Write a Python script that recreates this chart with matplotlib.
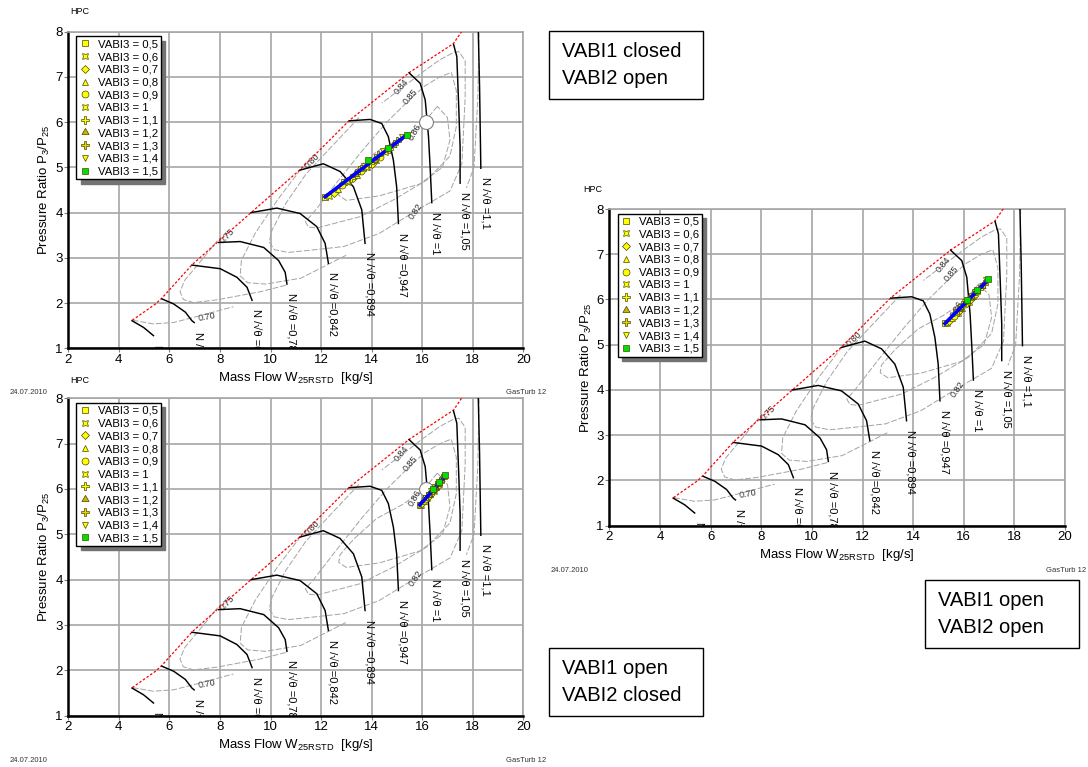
import matplotlib
matplotlib.use('Agg')
import matplotlib.pyplot as plt
from matplotlib.patches import Rectangle

plt.rcParams['font.family'] = ['Liberation Sans', 'DejaVu Sans']
plt.rcParams['mathtext.default'] = 'regular'

# ---- compressor map (identical in all three panels) ----
surge_x = [4.53, 5.45, 5.72, 6.90, 7.95, 9.23, 11.17, 13.12, 15.50, 17.24, 17.63]
surge_y = [1.62, 1.98, 2.12, 2.85, 3.37, 4.00, 4.95, 6.04, 7.10, 7.74, 8.06]

speed_x = [
    [4.52, 4.98, 5.37],
    [5.71, 6.17, 6.63, 6.89, 6.98],
    [6.89, 8.01, 8.67, 9.07, 9.27],
    [7.95, 8.80, 9.73, 10.32, 10.58, 10.65],
    [9.23, 10.25, 11.17, 11.83, 12.16, 12.29],
    [11.17, 12.09, 12.75, 13.28, 13.61, 13.74],
    [13.12, 13.94, 14.40, 14.66, 14.86, 14.99, 15.06],
    [15.48, 15.92, 16.12, 16.25, 16.32, 16.38],
    [17.24, 17.37, 17.44, 17.50, 17.50],
    [18.22, 18.27, 18.32],
]
speed_y = [
    [1.61, 1.46, 1.28],
    [2.09, 1.98, 1.80, 1.61, 1.57],
    [2.84, 2.76, 2.57, 2.35, 2.06],
    [3.34, 3.36, 3.23, 2.94, 2.68, 2.42],
    [4.00, 4.10, 3.98, 3.69, 3.32, 2.88],
    [4.94, 5.08, 4.91, 4.57, 4.06, 3.32],
    [6.03, 6.06, 5.97, 5.68, 5.16, 4.57, 3.76],
    [7.09, 6.86, 6.49, 5.68, 4.94, 4.22],
    [7.72, 7.45, 6.42, 5.46, 4.65],
    [8.00, 6.78, 4.98],
]
speed_labels = ['0,6', '0,66', '0,72', '0,78', '0,842', '0,894', '0,947', '1', '1,05', '1,1']

eff_x = [
    [4.55, 5.36, 6.16, 7.21, 8.53],
    [7.90, 7.20, 6.60, 6.42, 6.55, 6.95, 7.87, 9.59, 10.64],
    [11.20, 10.30, 9.40, 8.85, 8.80, 9.10, 9.80, 11.20, 13.00],
    [13.50, 12.40, 11.40, 10.60, 10.05, 9.95, 10.15, 10.70, 11.60, 12.90, 14.30, 15.70,
     17.10, 17.57, 17.70, 17.70, 17.45, 17.24, 16.70, 16.05, 15.20, 14.40],
    [15.60, 14.60, 13.60, 12.60, 11.70, 11.38, 11.50, 11.83, 13.54, 14.86, 16.18, 17.10,
     17.35, 17.35, 17.15, 16.70, 16.10, 15.60],
    [16.60, 16.00, 15.20, 14.20, 13.30, 12.75, 12.70, 13.00, 14.30, 15.90, 16.80, 17.10,
     17.00, 16.60],
    [18.25, 18.20, 18.05, 17.75],
]
eff_y = [
    [1.62, 1.54, 1.57, 1.72, 1.92],
    [3.38, 2.90, 2.50, 2.25, 2.08, 2.01, 2.07, 2.25, 2.40],
    [4.96, 4.30, 3.55, 2.95, 2.60, 2.45, 2.42, 2.55, 3.06],
    [6.10, 5.45, 4.85, 4.20, 3.60, 3.35, 3.18, 3.12, 3.17, 3.25, 3.54, 4.02,
     4.48, 5.08, 6.55, 7.36, 7.56, 7.54, 7.38, 7.12, 6.76, 6.42],
    [6.55, 6.00, 5.35, 4.65, 4.00, 3.80, 3.68, 3.66, 3.91, 4.28, 4.72, 5.25,
     5.90, 6.70, 7.10, 7.00, 6.80, 6.55],
    [6.35, 5.95, 5.65, 5.35, 4.90, 4.55, 4.38, 4.27, 4.37, 4.63, 5.00, 5.60,
     6.10, 6.35],
    [8.00, 6.50, 5.00, 4.55],
]
eff_text = ['0.70', '0.75', '0.80', '0.82', '0.84', '0.85', '0.86']
eff_tx = [7.47, 8.27, 11.66, 15.75, 15.19, 15.52, 15.72]
eff_ty = [1.70, 3.48, 5.13, 4.02, 6.78, 6.56, 5.79]
eff_rot = [10, 45, 45, 55, 50, 50, 60]

circle_x, circle_y = 16.15, 6.0

vabi3 = ['0,5', '0,6', '0,7', '0,8', '0,9', '1', '1,1', '1,2', '1,3', '1,4', '1,5']

# ---- operating points, panel 1: VABI1 closed / VABI2 open ----
p1_x = [[12.16, 12.91, 13.66], [12.33, 13.08, 13.83], [12.50, 13.25, 14.00],
        [12.67, 13.42, 14.17], [12.84, 13.59, 14.34], [13.01, 13.76, 14.51],
        [13.18, 13.93, 14.68], [13.35, 14.10, 14.85], [13.52, 14.27, 15.02],
        [13.69, 14.44, 15.19], [13.87, 14.63, 15.39]]
p1_y = [[4.35, 4.67, 4.99], [4.36, 4.68, 5.00], [4.44, 4.76, 5.08],
        [4.53, 4.84, 5.16], [4.61, 4.93, 5.24], [4.69, 5.01, 5.33],
        [4.77, 5.09, 5.41], [4.85, 5.17, 5.49], [4.95, 5.27, 5.58],
        [5.04, 5.36, 5.68], [5.16, 5.42, 5.72]]
p1_line_x = [12.16, 15.39]
p1_line_y = [4.35, 5.72]

# ---- panel 2: VABI1 open / VABI2 closed ----
p2_x = [[15.91, 16.16, 16.41], [15.96, 16.21, 16.46], [16.01, 16.26, 16.51],
        [16.06, 16.31, 16.56], [16.11, 16.36, 16.61], [16.16, 16.41, 16.66],
        [16.21, 16.46, 16.71], [16.26, 16.51, 16.76], [16.31, 16.56, 16.81],
        [16.36, 16.61, 16.86], [16.41, 16.66, 16.91]]
p2_y = [[5.65, 5.81, 5.97], [5.64, 5.80, 5.96], [5.68, 5.84, 6.00],
        [5.73, 5.88, 6.04], [5.77, 5.92, 6.08], [5.81, 5.97, 6.12],
        [5.85, 6.01, 6.16], [5.89, 6.05, 6.21], [5.92, 6.08, 6.24],
        [5.95, 6.11, 6.27], [6.00, 6.15, 6.31]]
p2_line_x = [15.91, 16.91]
p2_line_y = [5.65, 6.28]

# ---- panel 3: VABI1 open / VABI2 open ----
p3_x = [[15.26, 15.69, 16.11], [15.35, 15.77, 16.20], [15.43, 15.86, 16.28],
        [15.52, 15.94, 16.37], [15.60, 16.03, 16.45], [15.69, 16.11, 16.54],
        [15.77, 16.20, 16.62], [15.86, 16.28, 16.71], [15.94, 16.37, 16.79],
        [16.03, 16.45, 16.88], [16.11, 16.54, 16.96]]
p3_y = [[5.47, 5.71, 5.95], [5.47, 5.71, 5.95], [5.53, 5.77, 6.01],
        [5.59, 5.82, 6.07], [5.64, 5.89, 6.12], [5.70, 5.94, 6.18],
        [5.76, 6.00, 6.24], [5.82, 6.06, 6.30], [5.87, 6.12, 6.35],
        [5.94, 6.17, 6.42], [5.98, 6.22, 6.46]]
p3_line_x = [15.26, 16.96]
p3_line_y = [5.47, 6.43]

markers = ['s', (4, 1, 45), 'D', '^', 'o', (4, 1, 45), 'P', (3, 1, 0), 'P', 'v', 's']
msizes = [5, 6, 4, 5, 5, 6, 6, 6, 6, 5, 5]
colors = ['#ffff00'] * 7 + ['#c8b400', '#e6d200', '#ffff00', '#00e000']


def draw_panel(ax, op_x, op_y, line_x, line_y, show_circle):
    for xs, ys in zip(eff_x, eff_y):
        ax.plot(xs, ys, color='#a3a3a3', lw=0.7, ls=(0, (6, 2)), zorder=2)
    for t, x, y, r in zip(eff_text, eff_tx, eff_ty, eff_rot):
        ax.text(x, y, t, rotation=r, fontsize=6.5, color='#303030',
                ha='center', va='center', zorder=3)
    ax.plot(surge_x, surge_y, color='red', lw=0.9, ls=(0, (2, 1.5)), zorder=3)
    for xs, ys, lab in zip(speed_x, speed_y, speed_labels):
        ax.plot(xs, ys, color='black', lw=1.05, zorder=3)
        ax.text(xs[-1] + 0.14, ys[-1] - 0.2, 'N /√θ =' + lab, rotation=-90,
                ha='center', va='top', fontsize=8, clip_on=True, zorder=3)
    if show_circle:
        ax.plot(circle_x, circle_y, 'o', ms=10, mfc='white', mec='#808080',
                mew=0.8, zorder=4)
    for i, (xs, ys) in enumerate(zip(op_x, op_y)):
        ax.plot(xs, ys, ls='none', marker=markers[i], ms=msizes[i],
                mfc=colors[i], mec='#4a4a00', mew=0.5,
                zorder=7 if i == 10 else 5, label='VABI3 = ' + vabi3[i])
    ax.plot(line_x, line_y, color='#0000ff', lw=2.6, zorder=6)

    ax.set_xlim(2, 20)
    ax.set_ylim(1, 8)
    ax.set_xticks(range(2, 21, 2))
    ax.set_yticks(range(1, 9))
    ax.grid(True, color='#a6a6a6', lw=1.2)
    ax.set_axisbelow(True)
    for s in ['left', 'bottom']:
        ax.spines[s].set_color('black')
        ax.spines[s].set_linewidth(1.8)
    for s in ['top', 'right']:
        ax.spines[s].set_color('#a6a6a6')
        ax.spines[s].set_linewidth(1.2)
    ax.tick_params(direction='out', length=3, width=0.8, color='#808080',
                   labelsize=9.5, pad=1)
    ax.set_xlabel('Mass Flow W$_{25RSTD}$  [kg/s]', fontsize=9.5, labelpad=3)
    ax.set_ylabel('Pressure Ratio P$_3$/P$_{25}$', fontsize=9.5, labelpad=2)
    leg = ax.legend(loc='upper left', bbox_to_anchor=(0.018, 0.985),
                    borderaxespad=0, fontsize=8.2, labelspacing=0.24,
                    handlelength=1.0, handletextpad=0.6, borderpad=0.25,
                    fancybox=False, framealpha=1, edgecolor='black',
                    shadow={'color': '0.45', 'alpha': 1, 'ox': 3, 'oy': -3})
    leg.get_frame().set_linewidth(1.0)
    leg.set_zorder(10)


fig = plt.figure(figsize=(10.88, 7.67), dpi=100)
W, H = 1088.0, 767.0


def add_ax(left, top, right, bottom):
    return fig.add_axes([left / W, 1 - bottom / H, (right - left) / W, (bottom - top) / H])


ax1 = add_ax(68.3, 31.7, 523.3, 348.3)
ax2 = add_ax(68.3, 398.3, 523.3, 715.7)
ax3 = add_ax(609.4, 209.0, 1065.0, 525.7)

draw_panel(ax1, p1_x, p1_y, p1_line_x, p1_line_y, True)
draw_panel(ax2, p2_x, p2_y, p2_line_x, p2_line_y, True)
draw_panel(ax3, p3_x, p3_y, p3_line_x, p3_line_y, False)

small = dict(fontsize=5.5, color='#333333', va='center')
for hx, hy in [(70, 12), (70, 380), (583, 190)]:
    fig.text(hx / W, 1 - hy / H, 'HPC', fontsize=6.5, va='center')
for dx, dy, gx in [(10, 392, 546), (10, 760, 546), (551, 570, 1086)]:
    fig.text(dx / W, 1 - dy / H, '24.07.2010', ha='left', **small)
    fig.text(gx / W, 1 - dy / H, 'GasTurb 12', ha='right', **small)

boxes = [(549, 31, 703, 99, 'VABI1 closed', 'VABI2 open'),
         (549, 648, 703, 716, 'VABI1 open', 'VABI2 closed'),
         (925, 580, 1079, 648, 'VABI1 open', 'VABI2 open')]
for x0, y0, x1, y1, l1, l2 in boxes:
    fig.patches.append(Rectangle((x0 / W, 1 - y1 / H), (x1 - x0) / W, (y1 - y0) / H,
                                 transform=fig.transFigure, fc='white',
                                 ec='black', lw=1.0))
    ym = (y0 + y1) / 2
    fig.text((x0 + 13.5) / W, 1 - (ym - 13.3) / H, l1, fontsize=14.5, va='center')
    fig.text((x0 + 13.5) / W, 1 - (ym + 13.3) / H, l2, fontsize=14.5, va='center')

fig.savefig('out.png', dpi=100)
